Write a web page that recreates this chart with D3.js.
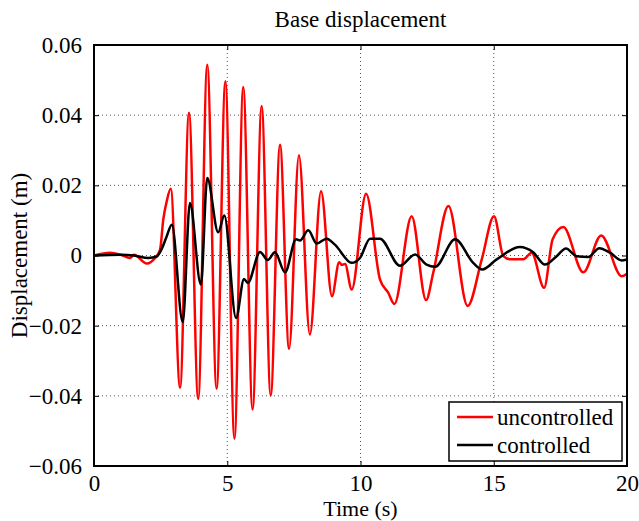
<!DOCTYPE html>
<html>
<head>
<meta charset="utf-8">
<script src="https://cdn.jsdelivr.net/npm/d3@7"></script>
<style>
  body { margin: 0; background: #fff; }
  text { font-family: "Liberation Serif", "Times New Roman", serif; fill: #000; }
</style>
</head>
<body>
<script>
// Data
var uncontrolledT = [0, 0.6, 1.0, 1.35, 1.5, 1.98, 2.29, 2.48, 2.6, 2.73, 2.88, 3.23, 3.565, 3.91, 4.25, 4.6, 4.93, 5.27, 5.6, 5.95, 6.29, 6.63, 6.98, 7.32, 7.69, 8.1, 8.52, 8.93, 9.2, 9.3, 9.42, 9.67, 10.21, 10.73, 11.04, 11.27, 11.92, 12.46, 12.73, 13.3, 14.02, 14.55, 15.01, 15.36, 15.61, 16.11, 16.42, 16.89, 17.21, 17.61, 18.36, 19.03, 19.8, 20];
var uncontrolledY = [0, 0.0008, 0.0002, -0.0007, 0.0002, -0.0023, -0.0007, 0.0017, 0.0103, 0.0155, 0.019, -0.0377, 0.0407, -0.0409, 0.0544, -0.038, 0.0497, -0.0522, 0.048, -0.0439, 0.0426, -0.0399, 0.0316, -0.0266, 0.0286, -0.0225, 0.0183, -0.0116, -0.0019, -0.0027, -0.0024, -0.0097, 0.0176, -0.0068, -0.0106, -0.0138, 0.0112, -0.0127, -0.0049, 0.0141, -0.0144, -0.0011, 0.0112, -0.0002, -0.0011, -0.0011, 0.0008, -0.0092, 0.0046, 0.0081, -0.0048, 0.0057, -0.0059, -0.0052];

var controlledT = [0, 1.0, 1.5, 2.04, 2.35, 2.55, 2.73, 2.92, 3.33, 3.6, 4.01, 4.25, 4.66, 4.89, 5.33, 5.63, 5.77, 6.23, 6.52, 6.79, 7.17, 7.58, 7.73, 8.04, 8.36, 8.73, 9.04, 9.67, 9.98, 10.36, 10.73, 11.48, 12.05, 12.48, 12.8, 13.55, 14.23, 14.57, 15.11, 15.98, 16.48, 16.92, 17.36, 17.71, 18.11, 18.55, 18.96, 19.36, 19.8, 20];
var controlledY = [0, 0.0002, 0, -0.0007, -0.0003, 0.002, 0.0055, 0.0088, -0.019, 0.015, -0.0083, 0.0221, 0.0066, 0.0114, -0.0178, -0.0067, -0.0078, 0.001, -0.0013, 0.0009, -0.0048, 0.0046, 0.0043, 0.0072, 0.0034, 0.0048, 0.0031, -0.0021, -0.0007, 0.0048, 0.0048, -0.0029, 0.0003, -0.0026, -0.0032, 0.0046, -0.0021, -0.004, -0.0011, 0.0024, 0.0009, -0.0026, -0.0002, 0.002, -0.0002, -0.0004, 0.0021, 0.0008, -0.0014, -0.0011];

var xTicks = [0, 5, 10, 15, 20];
var yTicks = [-0.06, -0.04, -0.02, 0, 0.02, 0.04, 0.06];
var seriesNames = ["uncontrolled", "controlled"];
var seriesColors = ["#ff0000", "#000000"];

var serif = "'Liberation Serif', 'Times New Roman', serif";

var margin = {left: 94, right: 12, top: 45, bottom: 55},
    width = 639 - margin.left - margin.right,
    height = 521 - margin.top - margin.bottom;

var svg = d3.select("body")
    .append("svg")
    .attr("width", 639)
    .attr("height", 521);

var g = svg.append("g")
    .attr("transform", "translate(" + margin.left + "," + margin.top + ")");

var x = d3.scaleLinear().domain([0, 20]).range([0, width]);
var y = d3.scaleLinear().domain([-0.06, 0.06]).range([height, 0]);

var fmtY = function(d) {
    if (d === 0) return "0";
    return (d < 0 ? "\u22120" : "0") + d3.format(".2f")(Math.abs(d)).slice(1);
};

// grid
g.append("g").selectAll("line")
    .data(xTicks.slice(1, -1))
    .enter().append("line")
    .attr("x1", d => x(d)).attr("x2", d => x(d))
    .attr("y1", 0).attr("y2", height)
    .attr("stroke", "#555").attr("stroke-width", 1)
    .attr("stroke-dasharray", "1,3");

g.append("g").selectAll("line")
    .data(yTicks.slice(1, -1))
    .enter().append("line")
    .attr("y1", d => y(d)).attr("y2", d => y(d))
    .attr("x1", 0).attr("x2", width)
    .attr("stroke", "#555").attr("stroke-width", 1)
    .attr("stroke-dasharray", "1,3");

// lines
var line = d3.line()
    .x(d => x(d[0]))
    .y(d => y(d[1]))
    .curve(d3.curveMonotoneX);

var series = [
    d3.zip(uncontrolledT, uncontrolledY),
    d3.zip(controlledT, controlledY)
];

g.append("defs").append("clipPath").attr("id", "clip")
    .append("rect").attr("width", width).attr("height", height);

g.append("g").attr("clip-path", "url(#clip)")
    .selectAll("path")
    .data(series)
    .enter().append("path")
    .attr("fill", "none")
    .attr("stroke", (d, i) => seriesColors[i])
    .attr("stroke-width", 2.5)
    .attr("stroke-linejoin", "round")
    .attr("d", line);

// axes (MATLAB style, ticks inside on all four sides)
g.append("g")
    .attr("transform", "translate(0," + height + ")")
    .call(d3.axisBottom(x).tickValues(xTicks).tickSize(-5).tickPadding(9).tickFormat(d3.format("d")))
    .call(a => a.select(".domain").remove())
    .call(a => a.selectAll("text").style("font-size", "23px").style("font-family", serif));

g.append("g")
    .call(d3.axisTop(x).tickValues(xTicks).tickSize(-5).tickFormat(""))
    .call(a => a.select(".domain").remove());

g.append("g")
    .call(d3.axisLeft(y).tickValues(yTicks).tickSize(-5).tickPadding(12).tickFormat(fmtY))
    .call(a => a.select(".domain").remove())
    .call(a => a.selectAll("text").style("font-size", "23px").style("font-family", serif));

g.append("g")
    .attr("transform", "translate(" + width + ",0)")
    .call(d3.axisRight(y).tickValues(yTicks).tickSize(-5).tickFormat(""))
    .call(a => a.select(".domain").remove());

g.append("rect")
    .attr("width", width).attr("height", height)
    .attr("fill", "none").attr("stroke", "#000").attr("stroke-width", 2);

// titles
svg.append("text")
    .attr("x", margin.left + width / 2).attr("y", 27)
    .attr("text-anchor", "middle").style("font-size", "23px")
    .text("Base displacement");

svg.append("text")
    .attr("x", margin.left + width / 2).attr("y", 516)
    .attr("text-anchor", "middle").style("font-size", "22px")
    .text("Time (s)");

svg.append("text")
    .attr("transform", "translate(27," + (margin.top + height / 2) + ") rotate(-90)")
    .attr("text-anchor", "middle").style("font-size", "23px")
    .text("Displacement (m)");

// legend
var lg = svg.append("g").attr("transform", "translate(449,402)");
lg.append("rect")
    .attr("width", 173).attr("height", 59)
    .attr("fill", "#fff").attr("stroke", "#000").attr("stroke-width", 1.5);

lg.selectAll("line")
    .data(seriesNames)
    .enter().append("line")
    .attr("x1", 8).attr("x2", 44)
    .attr("y1", (d, i) => 15 + i * 28).attr("y2", (d, i) => 15 + i * 28)
    .attr("stroke", (d, i) => seriesColors[i]).attr("stroke-width", 2.5);

lg.selectAll("text")
    .data(seriesNames)
    .enter().append("text")
    .attr("x", 48)
    .attr("y", (d, i) => 15 + i * 28)
    .attr("dy", "0.33em")
    .style("font-size", "23px")
    .text(d => d);
</script>
</body>
</html>
